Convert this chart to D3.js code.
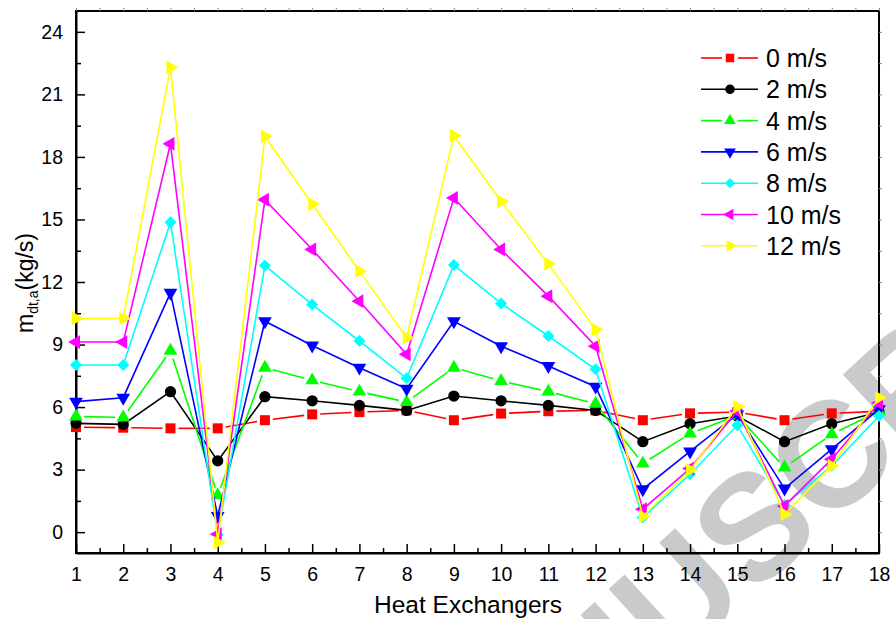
<!DOCTYPE html>
<html lang="en">
<head>
  <meta charset="UTF-8">
  <title>Heat exchangers</title>
  <script src="https://d3js.org/d3.v7.min.js" charset="utf-8"></script>
  <style>
    body { margin: 0; background: #fff; }
    svg text { font-family: Arial, "Liberation Sans", sans-serif; fill: #000; }
  </style>
</head>
<body>
<div class="div1"></div>
<script>
  // data
  var exchangers = [1, 2, 3, 4, 5, 6, 7, 8, 9, 10, 11, 12, 13, 14, 15, 16, 17, 18]
  var speedNames = ['0 m/s', '2 m/s', '4 m/s', '6 m/s', '8 m/s', '10 m/s', '12 m/s']
  var speed0  = [5.04, 5.01, 4.98, 4.98, 5.37, 5.65, 5.76, 5.84, 5.37, 5.69, 5.8, 5.84, 5.37, 5.7, 5.76, 5.37, 5.7, 5.8]
  var speed2  = [5.22, 5.17, 6.74, 3.42, 6.5, 6.3, 6.08, 5.84, 6.53, 6.3, 6.08, 5.84, 4.34, 5.2, 5.57, 4.34, 5.2, 5.75]
  var speed4  = [5.55, 5.5, 8.7, 1.77, 7.89, 7.28, 6.74, 6.24, 7.89, 7.25, 6.74, 6.16, 3.29, 4.73, 5.6, 3.1, 4.7, 5.8]
  var speed6  = [6.26, 6.45, 11.48, 0.78, 10.12, 8.95, 7.89, 6.88, 10.12, 8.92, 7.97, 6.98, 2.06, 3.87, 5.65, 2.09, 3.98, 5.9]
  var speed8  = [8.02, 8.02, 14.87, -0.13, 12.79, 10.92, 9.17, 7.38, 12.81, 10.97, 9.41, 7.81, 0.7, 2.78, 5.13, 1.3, 3.18, 5.57]
  var speed10 = [9.12, 9.12, 18.63, -0.1, 15.95, 13.56, 11.08, 8.53, 16.03, 13.56, 11.32, 8.92, 1.1, 3.05, 5.81, 1.26, 3.5, 6.2]
  var speed12 = [10.25, 10.25, 22.3, -0.5, 18.98, 15.74, 12.52, 9.33, 19.02, 15.87, 12.87, 9.72, 0.75, 2.98, 6.02, 0.86, 3.18, 6.45]
  var yTicks = [0, 3, 6, 9, 12, 15, 18, 21, 24]

  var allSeries = [speed0, speed2, speed4, speed6, speed8, speed10, speed12]
  var colors = ['#ff0000', '#000000', '#00ff00', '#0000ff', '#00ffff', '#ff00ff', '#ffff00']
  var shapes = ['square', 'circle', 'up', 'down', 'diamond', 'left', 'right']
  var gaps = [8, 0, 8, 0, 0, 0, 0]   // red and green lines stop short of the markers

  var width = 896
  var height = 619
  var plotLeft = 76, plotRight = 879, plotTop = 11, plotBottom = 553

  var svg = d3.select('.div1')
    .append('svg')
    .attr('width', width)
    .attr('height', height)

  var xScale = d3.scaleLinear().domain([1, 18]).range([plotLeft, plotRight])
  var yScale = d3.scaleLinear().domain([-1, 25]).range([plotBottom, plotTop])

  drawWatermark()
  drawAxes()
  drawSeries()
  drawLegend()

  function markerPath(shape) {
    if (shape === 'square') return d3.symbol(d3.symbolSquare, 100)()
    if (shape === 'circle') return d3.symbol(d3.symbolCircle, 100)()
    if (shape === 'diamond') return d3.symbol(d3.symbolSquare, 72)()
    return d3.symbol(d3.symbolTriangle, 82)()
  }

  function markerRotate(shape) {
    if (shape === 'down') return 180
    if (shape === 'left') return -90
    if (shape === 'right') return 90
    if (shape === 'diamond') return 45
    return 0
  }

  function drawWatermark() {
    svg.append('text')
      .attr('transform', 'translate(420,902) rotate(-42.5)')
      .attr('font-size', 150)
      .attr('font-weight', 'bold')
      .style('fill', '#c9cacc')
      .text('MANUSCRIPT')
  }

  function styleText(sel, size) {
    sel.attr('font-size', size)
      .attr('fill', '#000')
      .style('font-family', 'Arial, "Liberation Sans", sans-serif')
  }

  function drawAxes() {
    var g = svg.append('g')

    // frame
    g.append('rect')
      .attr('x', plotLeft).attr('y', plotTop)
      .attr('width', plotRight - plotLeft).attr('height', plotBottom - plotTop)
      .attr('fill', 'none').attr('stroke', '#000').attr('stroke-width', 2)

    // bottom axis, ticks inward
    var xMajor = d3.axisBottom(xScale).tickValues(exchangers).tickSizeInner(-9).tickSizeOuter(0).tickFormat(d3.format('d'))
    var gx = g.append('g').attr('transform', 'translate(0,' + plotBottom + ')').call(xMajor)
    gx.attr('font-size', null)
    gx.select('.domain').attr('stroke-width', 2)
    gx.selectAll('.tick line').attr('stroke-width', 1.5)
    gx.selectAll('.tick text').attr('y', 14).attr('dy', '0.71em').call(styleText, 19.5)

    var xMinor = exchangers.slice(0, 17).map(function (d) { return d + 0.5 })
    g.append('g').attr('transform', 'translate(0,' + plotBottom + ')')
      .call(d3.axisBottom(xScale).tickValues(xMinor).tickSizeInner(-5).tickSizeOuter(0).tickFormat(''))
      .call(function (s) { s.select('.domain').remove(); s.selectAll('line').attr('stroke-width', 1.5) })

    // left axis, ticks inward
    var gy = g.append('g').attr('transform', 'translate(' + plotLeft + ',0)')
      .call(d3.axisLeft(yScale).tickValues(yTicks).tickSizeInner(-9).tickSizeOuter(0))
    gy.attr('font-size', null)
    gy.select('.domain').attr('stroke-width', 2)
    gy.selectAll('.tick line').attr('stroke-width', 1.5)
    gy.selectAll('.tick text').attr('x', -13).call(styleText, 19.5)

    var yMinor = yTicks.map(function (d) { return d + 1.5 }).filter(function (d) { return d < 25 })
    g.append('g').attr('transform', 'translate(' + plotLeft + ',0)')
      .call(d3.axisLeft(yScale).tickValues(yMinor).tickSizeInner(-5).tickSizeOuter(0).tickFormat(''))
      .call(function (s) { s.select('.domain').remove(); s.selectAll('line').attr('stroke-width', 1.5) })

    // faint outward ticks on the right and top
    g.append('g').attr('transform', 'translate(' + plotRight + ',0)')
      .call(d3.axisRight(yScale).tickValues(yTicks.concat(yMinor)).tickSizeInner(3).tickSizeOuter(0).tickFormat(''))
      .call(function (s) { s.select('.domain').remove(); s.selectAll('line').attr('stroke', '#888') })
    g.append('g').attr('transform', 'translate(0,' + plotTop + ')')
      .call(d3.axisTop(xScale).tickValues(exchangers.concat(xMinor)).tickSizeInner(3).tickSizeOuter(0).tickFormat(''))
      .call(function (s) { s.select('.domain').remove(); s.selectAll('line').attr('stroke', '#888') })

    // axis titles
    svg.append('text')
      .attr('x', 468).attr('y', 613)
      .attr('text-anchor', 'middle')
      .attr('font-size', 24.5)
      .text('Heat Exchangers')

    var yt = svg.append('text')
      .attr('transform', 'translate(33,283) rotate(-90)')
      .attr('text-anchor', 'middle')
      .attr('font-size', 23)
    yt.append('tspan').text('m')
    yt.append('tspan').attr('font-size', 14).attr('dy', 5).text('dt,a')
    yt.append('tspan').attr('dy', -5).text('(kg/s)')
  }

  function drawSeries() {
    for (let i = 0; i < allSeries.length; i++) {
      let pts = allSeries[i].map(function (v, j) { return [xScale(exchangers[j]), yScale(v)] })
      let g = svg.append('g').attr('class', 'series' + i)
      let gap = gaps[i]

      if (gap === 0) {
        g.append('path')
          .attr('d', d3.line()(pts))
          .attr('fill', 'none')
          .attr('stroke', colors[i])
          .attr('stroke-width', 1.6)
      } else {
        for (let j = 0; j < pts.length - 1; j++) {
          let a = pts[j], b = pts[j + 1]
          let dx = b[0] - a[0], dy = b[1] - a[1]
          let len = Math.sqrt(dx * dx + dy * dy)
          if (len <= 2 * gap) continue
          let ux = dx / len, uy = dy / len
          g.append('line')
            .attr('x1', a[0] + ux * gap).attr('y1', a[1] + uy * gap)
            .attr('x2', b[0] - ux * gap).attr('y2', b[1] - uy * gap)
            .attr('stroke', colors[i])
            .attr('stroke-width', 1.6)
        }
      }

      g.selectAll('.mk' + i)
        .data(pts)
        .enter()
        .append('path')
        .attr('class', 'mk' + i)
        .attr('d', markerPath(shapes[i]))
        .attr('transform', function (d) {
          return 'translate(' + d[0] + ',' + d[1] + ') rotate(' + markerRotate(shapes[i]) + ')'
        })
        .attr('fill', colors[i])
    }
  }

  function drawLegend() {
    var lx = 701, mx = 730, tx = 766, ly = 58, step = 31.3
    var lg = svg.append('g').attr('class', 'legend')
    for (let i = 0; i < speedNames.length; i++) {
      let y = ly + i * step
      let gap = gaps[i]
      if (gap === 0) {
        lg.append('line').attr('x1', lx).attr('x2', lx + 57).attr('y1', y).attr('y2', y)
          .attr('stroke', colors[i]).attr('stroke-width', 1.6)
      } else {
        lg.append('line').attr('x1', lx).attr('x2', mx - gap).attr('y1', y).attr('y2', y)
          .attr('stroke', colors[i]).attr('stroke-width', 1.6)
        lg.append('line').attr('x1', mx + gap).attr('x2', lx + 57).attr('y1', y).attr('y2', y)
          .attr('stroke', colors[i]).attr('stroke-width', 1.6)
      }
      lg.append('path')
        .attr('d', markerPath(shapes[i]))
        .attr('transform', 'translate(' + mx + ',' + y + ') rotate(' + markerRotate(shapes[i]) + ') scale(0.85)')
        .attr('fill', colors[i])
      lg.append('text')
        .attr('x', tx).attr('y', y)
        .attr('dy', '0.36em')
        .attr('font-size', 25)
        .text(speedNames[i])
    }
  }
</script>
</body>
</html>
